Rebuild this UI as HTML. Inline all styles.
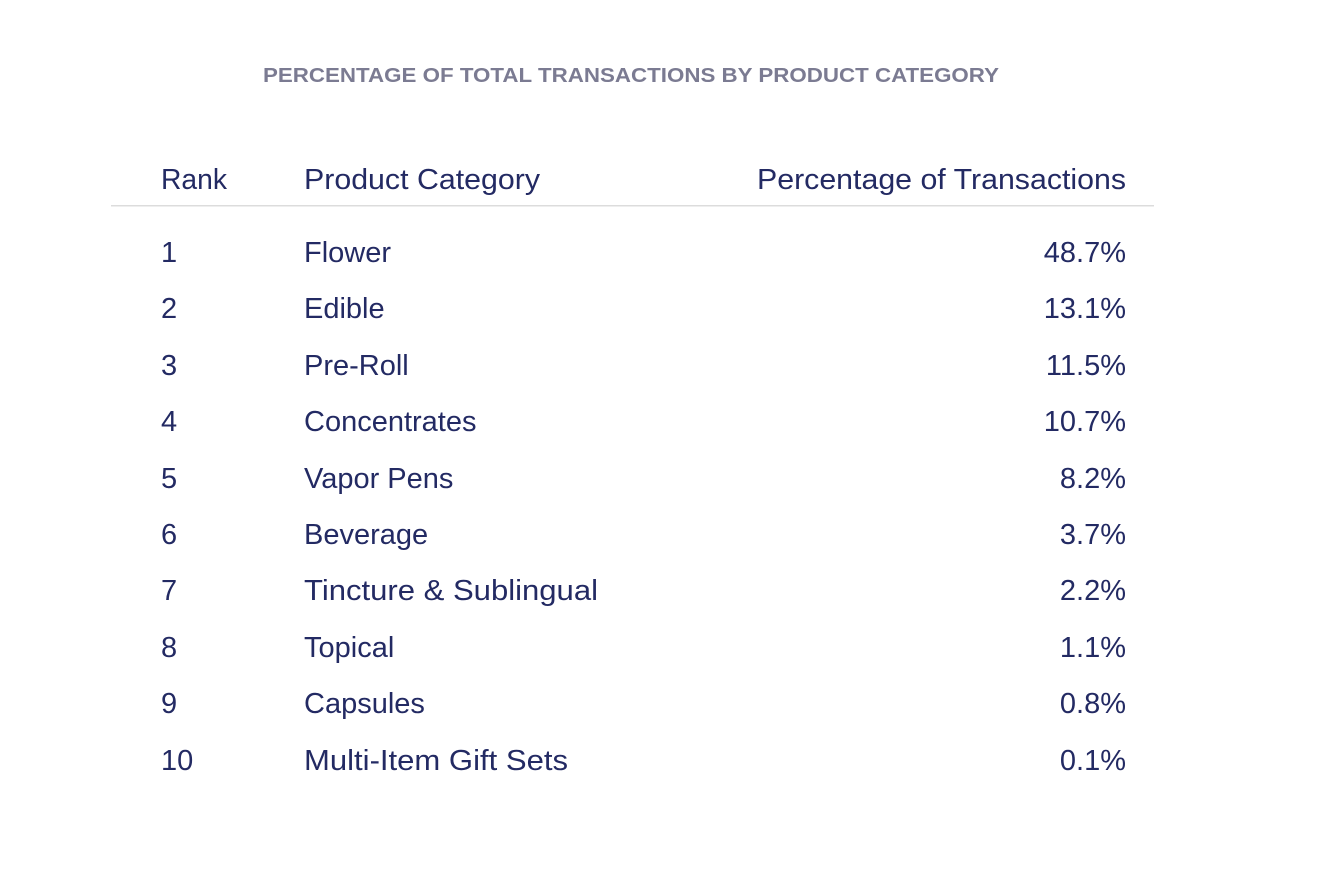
<!DOCTYPE html>
<html><head><meta charset="utf-8"><style>
html,body{margin:0;padding:0;background:#fff;}
svg{display:block}
text{font-family:"Liberation Sans",sans-serif;fill:#232a63;font-size:29px}
</style></head><body>
<svg width="1342" height="888" viewBox="0 0 1342 888">
<text x="263" y="82" style="font-size:20px;font-weight:bold;fill:#7b7b92" textLength="736" lengthAdjust="spacingAndGlyphs">PERCENTAGE OF TOTAL TRANSACTIONS BY PRODUCT CATEGORY</text>
<text x="161" y="189" textLength="66" lengthAdjust="spacingAndGlyphs">Rank</text>
<text x="304" y="189" textLength="236" lengthAdjust="spacingAndGlyphs">Product Category</text>
<text x="1126" y="189" text-anchor="end" textLength="369" lengthAdjust="spacingAndGlyphs">Percentage of Transactions</text>
<rect x="111" y="205" width="1043" height="1.5" fill="#dcdcdc"/>
<g>
<text x="161" y="262">1</text><text x="304" y="262">Flower</text><text x="1126" y="262" text-anchor="end">48.7%</text>
<text x="161" y="318">2</text><text x="304" y="318">Edible</text><text x="1126" y="318" text-anchor="end">13.1%</text>
<text x="161" y="375">3</text><text x="304" y="375">Pre-Roll</text><text x="1126" y="375" text-anchor="end">11.5%</text>
<text x="161" y="431">4</text><text x="304" y="431">Concentrates</text><text x="1126" y="431" text-anchor="end">10.7%</text>
<text x="161" y="488">5</text><text x="304" y="488">Vapor Pens</text><text x="1126" y="488" text-anchor="end">8.2%</text>
<text x="161" y="544">6</text><text x="304" y="544">Beverage</text><text x="1126" y="544" text-anchor="end">3.7%</text>
<text x="161" y="600">7</text><text x="304" y="600" textLength="294" lengthAdjust="spacingAndGlyphs">Tincture &amp; Sublingual</text><text x="1126" y="600" text-anchor="end">2.2%</text>
<text x="161" y="657">8</text><text x="304" y="657">Topical</text><text x="1126" y="657" text-anchor="end">1.1%</text>
<text x="161" y="713">9</text><text x="304" y="713">Capsules</text><text x="1126" y="713" text-anchor="end">0.8%</text>
<text x="161" y="770">10</text><text x="304" y="770" textLength="264" lengthAdjust="spacingAndGlyphs">Multi-Item Gift Sets</text><text x="1126" y="770" text-anchor="end">0.1%</text>
</g>
</svg>
</body></html>
